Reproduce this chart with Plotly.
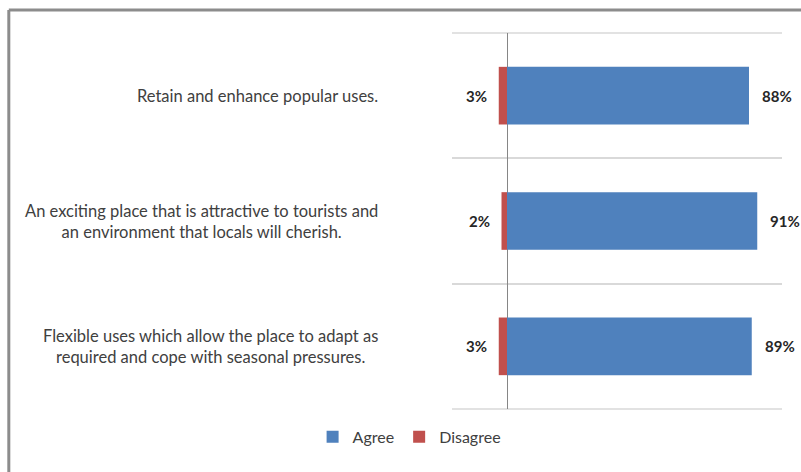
import plotly.graph_objects as go

categories = [
    "Retain and enhance popular uses.",
    "An exciting place that is attractive to tourists and<br>an environment that locals will cherish.",
    "Flexible uses which allow the place to adapt as<br>required and cope with seasonal pressures.",
]
agree = [88, 91, 89]
disagree = [3, 2, 3]
series_names = ["Agree", "Disagree"]

AGREE_COLOR = "#4f81bd"
DISAGREE_COLOR = "#c0504d"
FONT = "Lato"
GRID = "#d9d9d9"

fig = go.Figure()
fig.add_trace(go.Bar(
    y=categories, x=agree, orientation="h", name=series_names[0],
    marker=dict(color=AGREE_COLOR, line=dict(width=0)),
))
fig.add_trace(go.Bar(
    y=categories, x=[-v for v in disagree], orientation="h", name=series_names[1],
    marker=dict(color=DISAGREE_COLOR, line=dict(width=0)),
))

annotations = []
for cat, a, d in zip(categories, agree, disagree):
    annotations.append(dict(
        x=a, y=cat, xref="x", yref="y", text=f"{a}%", showarrow=False,
        xanchor="left", xshift=11,
        font=dict(family=FONT, size=15, color="#262626", weight="bold"),
    ))
    annotations.append(dict(
        x=-d, y=cat, xref="x", yref="y", text=f"{d}%", showarrow=False,
        xanchor="right", xshift=-10,
        font=dict(family=FONT, size=15, color="#262626", weight="bold"),
    ))
    annotations.append(dict(
        x=-0.218, y=cat, xref="paper", yref="y", text=cat, showarrow=False,
        xanchor="right", align="center",
        font=dict(family=FONT, size=16.5, color="#404040"),
    ))

fig.update_layout(
    width=801, height=472,
    margin=dict(l=452, r=19, t=33, b=63),
    paper_bgcolor="white", plot_bgcolor="white",
    barmode="relative", bargap=0.54,
    showlegend=True,
    legend=dict(orientation="h", x=-0.13, y=-0.074, xanchor="center", yanchor="middle",
                font=dict(family=FONT, size=16, color="#404040"), traceorder="normal",
                itemwidth=30),
    xaxis=dict(range=[-20, 100], showgrid=False, showticklabels=False,
               zeroline=True, zerolinecolor="#868686", zerolinewidth=1, fixedrange=True),
    yaxis=dict(autorange="reversed", type="category", tickson="boundaries",
               showgrid=True, gridcolor=GRID, gridwidth=1.5,
               showticklabels=False, ticks="", zeroline=False, fixedrange=True),
    annotations=annotations,
    shapes=[
        dict(type="line", xref="paper", yref="paper", x0=0, x1=1, y0=1, y1=1,
             line=dict(color=GRID, width=1.5), layer="below"),
        dict(type="line", xref="paper", yref="paper", x0=0, x1=1, y0=0, y1=0,
             line=dict(color=GRID, width=1.5), layer="below"),
        dict(type="line", xref="paper", yref="paper", x0=-1.343, x1=1.2, y0=1.061, y1=1.061,
             line=dict(color="#8c8c8c", width=3)),
        dict(type="line", xref="paper", yref="paper", x0=-1.343, x1=-1.343, y0=1.061, y1=-0.3,
             line=dict(color="#8c8c8c", width=3)),
    ],
)

fig.write_html(
    "out.html",
    config={"displayModeBar": False},
    post_script="document.body.style.margin='0';document.body.style.overflow='hidden';",
)
